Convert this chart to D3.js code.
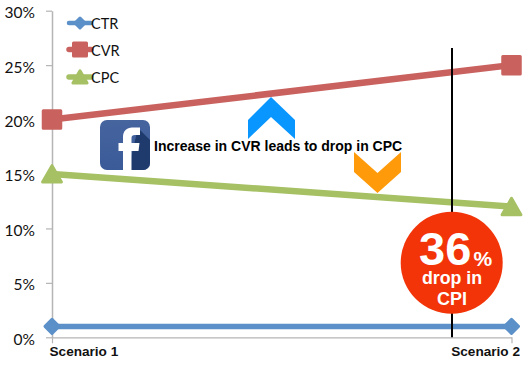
<!DOCTYPE html>
<html>
<head>
	<meta charset="utf-8">
	<title>CVR vs CPC</title>
	<script src="https://cdn.jsdelivr.net/npm/d3@7"></script>
	<style>
		html, body { margin: 0; padding: 0; background: #fff; overflow: hidden; }
		svg { display: block; }
		.ytick text { font-family: Lato, "Open Sans", sans-serif; font-size: 15.5px; fill: #111; }
		.xtick text { font-family: "Liberation Sans", Arial, sans-serif; font-size: 13.6px; font-weight: bold; fill: #111; }
		.legend text { font-family: Lato, "Open Sans", sans-serif; font-size: 14.5px; fill: #111; }
		.bold { font-family: "Liberation Sans", Arial, sans-serif; font-weight: bold; }
	</style>
</head>
<body>
	<div id="chart"></div>
	<script>
		// data
		const categories = ["Scenario 1", "Scenario 2"];
		const seriesNames = ["CTR", "CVR", "CPC"];
		const ctr = [1, 1];
		const cvr = [20, 25];
		const cpc = [15, 12];
		const yTicks = [0, 5, 10, 15, 20, 25, 30];

		const width = 532, height = 372;
		const marginLeft = 52, marginRight = 20.5, marginTop = 10.7, marginBottom = 34.7;

		const colors = { CTR: "#5b90c8", CVR: "#c9625e", CPC: "#a6c064" };
		const strokes = { CTR: 5.5, CVR: 6.5, CPC: 6.5 };
		const values = { CTR: ctr, CVR: cvr, CPC: cpc };

		const x = d3.scalePoint().domain(categories).range([marginLeft, width - marginRight]);
		const y = d3.scaleLinear().domain([0, 30]).range([height - marginBottom, marginTop]);

		const svg = d3.select("#chart").append("svg")
			.attr("width", width)
			.attr("height", height)
			.attr("viewBox", [0, 0, width, height]);

		// axes
		const yAxis = d3.axisLeft(y).tickValues(yTicks).tickFormat(d => d + "%").tickSize(6).tickSizeOuter(0);
		svg.append("g")
			.attr("class", "ytick")
			.attr("transform", `translate(${marginLeft},0)`)
			.call(yAxis)
			.call(g => g.select(".domain").attr("stroke", "#b5b5b5").attr("stroke-width", 1.5))
			.call(g => g.selectAll(".tick line").attr("stroke", "#b5b5b5").attr("stroke-width", 1.2))
			.call(g => g.selectAll(".tick text").attr("x", -17).attr("y", 2));

		const xAxis = d3.axisBottom(x).tickSize(6).tickSizeOuter(0).tickPadding(5);
		svg.append("g")
			.attr("class", "xtick")
			.attr("transform", `translate(0,${y(0)})`)
			.call(xAxis)
			.call(g => g.select(".domain").attr("stroke", "#b5b5b5").attr("stroke-width", 1.2))
			.call(g => g.selectAll(".tick line").attr("stroke", "#b5b5b5").attr("stroke-width", 1.2))
			.call(g => g.selectAll(".tick text")
				.attr("text-anchor", (d, i) => i === 0 ? "start" : "end")
				.attr("x", (d, i) => i === 0 ? -3 : 8)
				.attr("y", 9));

		// markers
		function marker(name, size) {
			if (name === "CTR") return d3.symbol(d3.symbolSquare, size * size * 0.5)();
			if (name === "CPC") return d3.symbol(d3.symbolTriangle, size * size * 0.6)();
			return d3.symbol(d3.symbolSquare, size * size)();
		}
		function drawMarker(g, name, size, cx, cy) {
			const m = g.append("path")
				.attr("d", marker(name, size))
				.attr("fill", colors[name])
				.attr("stroke", colors[name])
				.attr("stroke-width", 3)
				.attr("stroke-linejoin", "round");
			if (name === "CTR") m.attr("transform", `translate(${cx},${cy}) rotate(45)`);
			else if (name === "CPC") m.attr("transform", `translate(${cx},${cy + size * 0.16})`);
			else m.attr("transform", `translate(${cx},${cy})`);
		}

		// series
		const line = d3.line().x((d, i) => x(categories[i])).y(d => y(d));
		seriesNames.forEach(name => {
			svg.append("path")
				.attr("d", line(values[name]))
				.attr("fill", "none")
				.attr("stroke", colors[name])
				.attr("stroke-width", strokes[name]);
			const size = name === "CTR" ? 14 : name === "CVR" ? 17.5 : 16;
			values[name].forEach((v, i) => drawMarker(svg, name, size, x(categories[i]), y(v)));
		});

		// vertical marker
		svg.append("line")
			.attr("x1", 452).attr("x2", 452)
			.attr("y1", 48).attr("y2", y(0))
			.attr("stroke", "#000").attr("stroke-width", 2);

		// legend
		const legendY = { CTR: 23, CVR: 49.5, CPC: 77 };
		const legend = svg.append("g").attr("class", "legend");
		seriesNames.forEach(name => {
			legend.append("line")
				.attr("x1", 69).attr("x2", 91)
				.attr("y1", legendY[name]).attr("y2", legendY[name])
				.attr("stroke", colors[name])
				.attr("stroke-width", strokes[name] - 1)
				.attr("stroke-linecap", "round");
			drawMarker(legend, name, name === "CTR" ? 10 : name === "CVR" ? 13 : 12, 80, legendY[name]);
			legend.append("text")
				.attr("x", 91)
				.attr("y", legendY[name] + 6)
				.text(name);
		});

		// facebook badge
		const defs = svg.append("defs");
		const grad = defs.append("linearGradient").attr("id", "fb").attr("x1", 0).attr("y1", 0).attr("x2", 0).attr("y2", 1);
		grad.append("stop").attr("offset", 0).attr("stop-color", "#46659f");
		grad.append("stop").attr("offset", 1).attr("stop-color", "#3a5a98");
		defs.append("clipPath").attr("id", "fbclip").append("rect")
			.attr("x", 100).attr("y", 120).attr("width", 50).attr("height", 50).attr("rx", 7);
		const fb = svg.append("g").attr("clip-path", "url(#fbclip)");
		fb.append("rect").attr("x", 100).attr("y", 120).attr("width", 50).attr("height", 50).attr("fill", "url(#fb)");
		fb.append("path").attr("d", "M138 128L150 140V170H128Z").attr("fill", "#1f3b6e");
		fb.append("path")
			.attr("d", "M123 170V151H118.500V143H123V137C123 131 127 127.500 132 127.500H140V135H135C132.500 135 131.500 136 131.500 138V143H139.500L138.500 151H131.500V170Z")
			.attr("fill", "#fff");

		// chevrons
		const up = [[248, 120], [271, 97], [295, 120], [295, 139], [271, 117], [248, 139]];
		const down = [[354, 152], [377.5, 173], [401, 152], [401, 172], [377.5, 193], [354, 172]];
		svg.append("path").attr("d", d3.line()(up) + "Z").attr("fill", "#0a96ff");
		svg.append("path").attr("d", d3.line()(down) + "Z").attr("fill", "#ff9a0a");

		svg.append("text")
			.attr("class", "bold")
			.attr("x", 154).attr("y", 151)
			.attr("font-size", 14)
			.attr("fill", "#000")
			.text("Increase in CVR leads to drop in CPC");

		// CPI badge
		svg.append("circle")
			.attr("cx", 451.7).attr("cy", 262.7).attr("r", 51)
			.attr("fill", "#f23408");
		svg.append("text").attr("class", "bold").attr("x", 419).attr("y", 265)
			.attr("font-size", 47).attr("fill", "#fff").text("36");
		svg.append("text").attr("class", "bold").attr("x", 473.5).attr("y", 266)
			.attr("font-size", 21).attr("fill", "#fff").text("%");
		svg.append("text").attr("class", "bold").attr("x", 452).attr("y", 283.5)
			.attr("font-size", 17.8).attr("text-anchor", "middle").attr("fill", "#fff").text("drop in");
		svg.append("text").attr("class", "bold").attr("x", 452).attr("y", 305)
			.attr("font-size", 18).attr("text-anchor", "middle").attr("fill", "#fff").text("CPI");
	</script>
</body>
</html>
